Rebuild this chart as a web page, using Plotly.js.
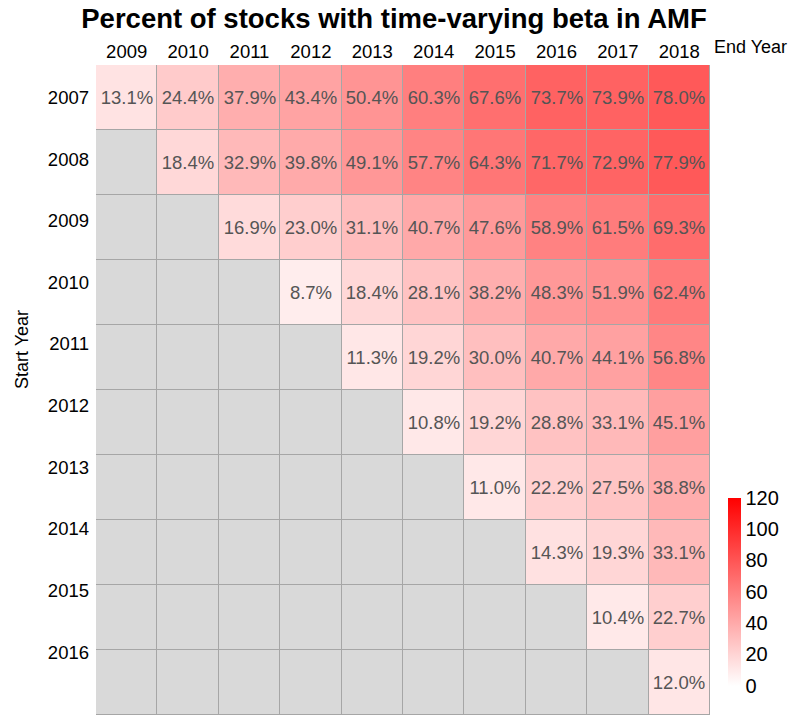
<!DOCTYPE html>
<html>
<head>
<meta charset="utf-8">
<script src="https://cdn.plot.ly/plotly-3.0.1.min.js"></script>
<style>html,body{margin:0;padding:0;background:#fff;}#chart{width:788px;height:717px;}</style>
</head>
<body>
<div id="chart"></div>
<script>
const endYears = ["2009","2010","2011","2012","2013","2014","2015","2016","2017","2018"];
const startYears = ["2007","2008","2009","2010","2011","2012","2013","2014","2015","2016"];
const row2007 = [13.1, 24.4, 37.9, 43.4, 50.4, 60.3, 67.6, 73.7, 73.9, 78.0];
const row2008 = [null, 18.4, 32.9, 39.8, 49.1, 57.7, 64.3, 71.7, 72.9, 77.9];
const row2009 = [null, null, 16.9, 23.0, 31.1, 40.7, 47.6, 58.9, 61.5, 69.3];
const row2010 = [null, null, null, 8.7, 18.4, 28.1, 38.2, 48.3, 51.9, 62.4];
const row2011 = [null, null, null, null, 11.3, 19.2, 30.0, 40.7, 44.1, 56.8];
const row2012 = [null, null, null, null, null, 10.8, 19.2, 28.8, 33.1, 45.1];
const row2013 = [null, null, null, null, null, null, 11.0, 22.2, 27.5, 38.8];
const row2014 = [null, null, null, null, null, null, null, 14.3, 19.3, 33.1];
const row2015 = [null, null, null, null, null, null, null, null, 10.4, 22.7];
const row2016 = [null, null, null, null, null, null, null, null, null, 12.0];
const colorbarTicks = [0, 20, 40, 60, 80, 100, 120];

const z = [row2007,row2008,row2009,row2010,row2011,row2012,row2013,row2014,row2015,row2016];
const rowIdx = startYears.map((_, i) => i);
const bgZ = z.map(r => r.map(() => 1));
const txt = z.map(r => r.map(v => v === null ? '' : v.toFixed(1) + '%'));
const FONT = 'Liberation Sans, Arial, sans-serif';

const bg = {
  type: 'heatmap', x: endYears, y: rowIdx, z: bgZ,
  colorscale: [[0,'#d9d9d9'],[1,'#d9d9d9']], showscale: false,
  xgap: 1, ygap: 1, hoverinfo: 'skip'
};
const hm = {
  type: 'heatmap', x: endYears, y: rowIdx, z: z,
  zmin: 0, zmax: 120,
  colorscale: [[0,'#ffffff'],[1,'#ff0000']],
  xgap: 1, ygap: 1,
  text: txt,
  texttemplate: '%{text}',
  textfont: {family: FONT, size: 18.5, color: '#555555'},
  colorbar: {
    thickness: 13, lenmode: 'pixels', len: 188,
    x: 1.03, xanchor: 'left', xpad: 0,
    y: 0.19, yanchor: 'middle', ypad: 0,
    outlinewidth: 0,
    tickvals: colorbarTicks,
    ticks: '',
    ticklabelstandoff: 4,
    tickfont: {family: FONT, size: 20, color: '#000'}
  }
};

const layout = {
  width: 788, height: 717,
  margin: {l: 96, r: 78, t: 65, b: 2},
  paper_bgcolor: '#ffffff',
  plot_bgcolor: '#a6a6a6',
  title: {text: '<b>Percent of stocks with time-varying beta in AMF</b>',
          font: {family: FONT, size: 27.5, color: '#000'},
          x: 0.5, xanchor: 'center', y: 0.988, yanchor: 'top'},
  xaxis: {side: 'top', type: 'category', showgrid: false, zeroline: false, ticks: '',
          ticklabelstandoff: 2,
          tickfont: {family: FONT, size: 18.5, color: '#000'}},
  yaxis: {range: [9.5, -0.5], showgrid: false, zeroline: false, ticks: '',
          tickvals: startYears.map((_, i) => i * 0.948), ticktext: startYears,
          ticklabelstandoff: 6,
          tickfont: {family: FONT, size: 18.5, color: '#000'}},
  annotations: [
    {text: 'End Year', xref: 'paper', yref: 'paper', x: 1.003, y: 1, yshift: 6,
     xanchor: 'left', yanchor: 'bottom', showarrow: false,
     font: {family: FONT, size: 18, color: '#000'}},
    {text: 'Start Year', xref: 'paper', yref: 'paper', x: 0, xshift: -74, y: 0.5615,
     xanchor: 'center', yanchor: 'middle', textangle: -90, showarrow: false,
     font: {family: FONT, size: 18, color: '#000'}}
  ]
};

Plotly.newPlot('chart', [bg, hm], layout, {displayModeBar: false});
</script>
</body>
</html>
